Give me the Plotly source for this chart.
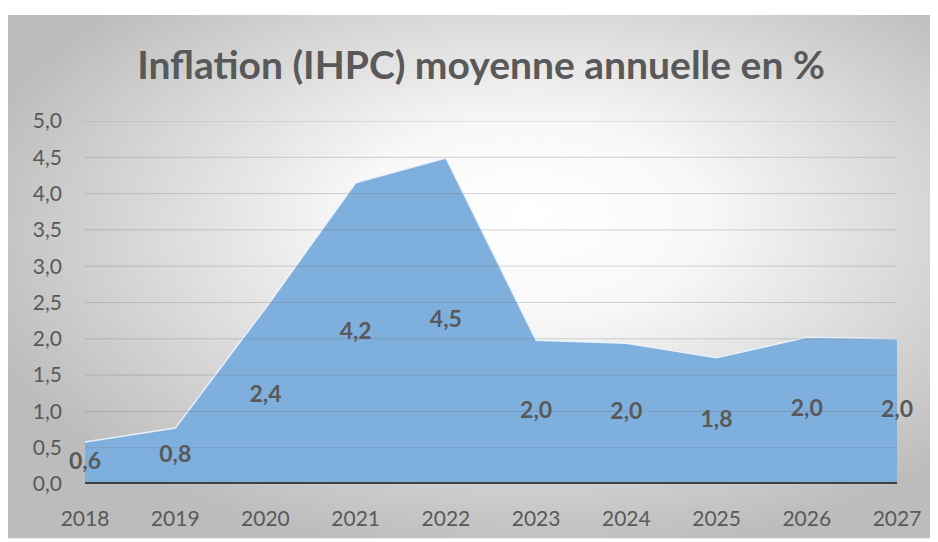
import base64
import plotly.graph_objects as go

years = [2018, 2019, 2020, 2021, 2022, 2023, 2024, 2025, 2026, 2027]
inflation = [0.58, 0.77, 2.42, 4.15, 4.49, 1.98, 1.94, 1.74, 2.02, 2.0]
labels = ["0,6", "0,8", "2,4", "4,2", "4,5", "2,0", "2,0", "1,8", "2,0", "2,0"]
y_ticks = [0, 0.5, 1, 1.5, 2, 2.5, 3, 3.5, 4, 4.5, 5]
title = "Inflation (IHPC) moyenne annuelle en %"

# page body has an 8px margin, so figure coords = page coords - 8
W, H = 930, 534
L, R, T, B = 77, 889, 113, 479

svg = (
    '<svg xmlns="http://www.w3.org/2000/svg" width="930" height="528" preserveAspectRatio="none">'
    '<defs><radialGradient id="g" cx="56%" cy="42%" r="62%" fx="56%" fy="38%">'
    '<stop offset="0%" stop-color="#ffffff"/><stop offset="30%" stop-color="#f8f8f8"/>'
    '<stop offset="100%" stop-color="#bcbcbc"/></radialGradient></defs>'
    '<rect width="930" height="528" fill="url(#g)"/></svg>'
)
src = "data:image/svg+xml;base64," + base64.b64encode(svg.encode()).decode()

pw, ph = R - L, B - T
def px(xp):
    return (xp - L) / pw
def py(yp):
    return (B - yp) / ph

fig = go.Figure()
fig.add_trace(go.Scatter(
    x=years, y=inflation, mode="lines", fill="tozeroy",
    fillcolor="rgb(127,175,221)",
    line=dict(color="rgba(235,243,252,0.95)", width=1.5),
    hoverinfo="skip", showlegend=False,
))
fig.add_trace(go.Scatter(
    x=years, y=[v / 2 for v in inflation], mode="text", text=labels,
    textposition="middle center",
    textfont=dict(family="Lato", size=23, color="#595959", weight="bold"),
    cliponaxis=False, hoverinfo="skip", showlegend=False,
))

fig.add_layout_image(dict(
    source=src, xref="paper", yref="paper",
    x=px(0), y=py(6), sizex=px(930) - px(0), sizey=py(6) - py(534),
    xanchor="left", yanchor="top", sizing="stretch", layer="below",
))

# gridlines drawn translucent above the area so they show through the fill
for t in y_ticks[1:]:
    fig.add_shape(type="line", xref="x", yref="y", x0=years[0], x1=years[-1], y0=t, y1=t,
                  line=dict(color="rgba(110,110,110,0.28)", width=1), layer="above")
fig.add_shape(type="line", xref="x", yref="y", x0=years[0], x1=years[-1], y0=0, y1=0,
              line=dict(color="#404040", width=4), layer="above")

fig.update_layout(
    width=W, height=H,
    margin=dict(l=L, r=W - R, t=T, b=H - B, pad=0),
    paper_bgcolor="white", plot_bgcolor="rgba(0,0,0,0)",
    separators=", ",
    title=dict(text=title, x=473 / W, xanchor="center", y=1 - 57 / H, yanchor="middle",
               font=dict(family="Lato", size=39, color="#595959", weight="bold")),
    xaxis=dict(range=[2018, 2027], tickvals=years, ticktext=[str(y) for y in years],
               showgrid=False, zeroline=False, showline=False, ticks="",
               tickfont=dict(family="Lato", size=21, color="#595959"),
               ticklabelstandoff=20),
    yaxis=dict(range=[0, 5], tickvals=y_ticks, tickformat=".1f",
               showgrid=False, zeroline=False, showline=False, ticks="",
               tickfont=dict(family="Lato", size=21, color="#595959"),
               ticklabelstandoff=22),
)

fig.write_html("out.html")
